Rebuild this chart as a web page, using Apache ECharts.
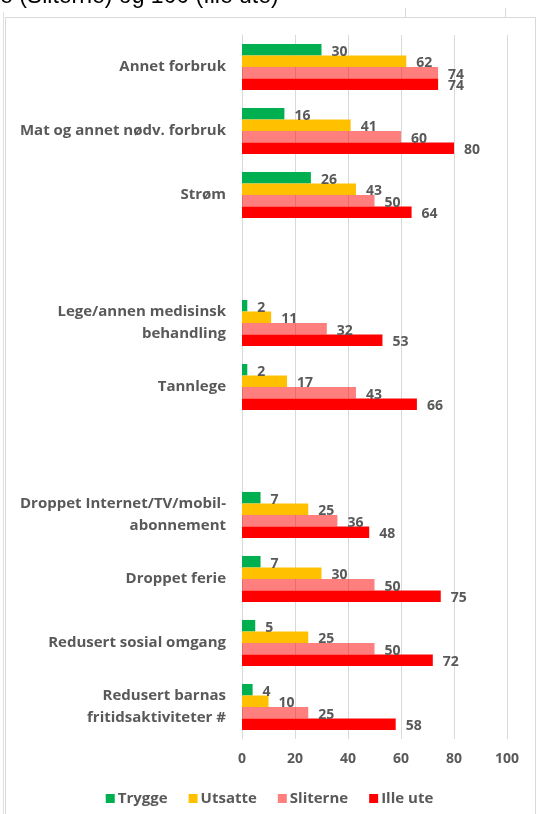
<!DOCTYPE html>
<html><head><meta charset="utf-8">
<script src="https://cdn.jsdelivr.net/npm/echarts@6/dist/echarts.min.js"></script>
<style>html,body{margin:0;padding:0;background:#fff}#c{width:539px;height:814px}</style>
</head><body><div id="c"></div>
<script>
const categories = ["Annet forbruk", "Mat og annet nødv. forbruk", "Strøm", " ", "Lege/annen medisinsk\nbehandling", "Tannlege", "  ", "Droppet Internet/TV/mobil-\nabonnement", "Droppet ferie", "Redusert sosial omgang", "Redusert barnas\nfritidsaktiviteter #"];
const seriesNames = ["Trygge", "Utsatte", "Sliterne", "Ille ute"];
const trygge   = [30, 16, 26, null, 2, 2, null, 7, 7, 5, 4];
const utsatte  = [62, 41, 43, null, 11, 17, null, 25, 30, 25, 10];
const sliterne = [74, 60, 50, null, 32, 43, null, 36, 50, 50, 25];
const illeUte  = [74, 80, 64, null, 53, 66, null, 48, 75, 72, 58];
const xTicks = [0, 20, 40, 60, 80, 100];

const colors = ["#00B050", "#FFC000", "rgba(255,0,0,0.5)", "#FF0000"];
const values = [trygge, utsatte, sliterne, illeUte];
const font = "'Open Sans', Lato, sans-serif";

const chart = echarts.init(document.getElementById('c'), null, {renderer: 'canvas'});
chart.setOption({
  animation: false,
  backgroundColor: '#fff',
  graphic: [
    {type: 'rect', shape: {x: 5.5, y: 17.5, width: 530, height: 820}, style: {fill: 'none', stroke: '#d9d9d9', lineWidth: 1}, silent: true},
    {type: 'line', shape: {x1: 3.5, y1: 12, x2: 3.5, y2: 814}, style: {stroke: '#e0e0e0', lineWidth: 1}, silent: true},
    {type: 'line', shape: {x1: 405.5, y1: 8, x2: 405.5, y2: 17}, style: {stroke: '#d9d9d9', lineWidth: 1}, silent: true},
    {type: 'line', shape: {x1: 505.5, y1: 8, x2: 505.5, y2: 17}, style: {stroke: '#d9d9d9', lineWidth: 1}, silent: true},
    {type: 'text', left: 0, top: -15, style: {text: 'e (Sliterne) og 100 (Ille ute)', font: "23px 'Liberation Sans', sans-serif", fill: '#000'}, silent: true}
  ],
  grid: {left: 242, right: 32, top: 35, bottom: 75, containLabel: false},
  legend: {
    bottom: 3, left: 'center',
    data: seriesNames,
    itemWidth: 9, itemHeight: 9, itemGap: 21,
    icon: 'rect',
    textStyle: {fontFamily: font, fontSize: 15, fontWeight: 'bold', color: '#595959', padding: [0, 0, 0, -2]}
  },
  xAxis: {
    type: 'value', min: 0, max: 100, interval: 20,
    axisLine: {show: false}, axisTick: {show: false},
    splitLine: {show: true, lineStyle: {color: '#d9d9d9', width: 1}},
    axisLabel: {fontFamily: font, fontSize: 14, fontWeight: 'bold', color: '#595959', margin: 13,
      formatter: v => xTicks.includes(v) ? String(v) : ''}
  },
  yAxis: {
    type: 'category', data: categories, inverse: true,
    axisLine: {show: true, lineStyle: {color: '#d9d9d9'}}, axisTick: {show: false},
    axisLabel: {fontFamily: font, fontSize: 15, fontWeight: 'bold', color: '#595959', margin: 16, align: 'right', lineHeight: 22}
  },
  series: seriesNames.map((n, i) => ({
    name: n, type: 'bar', data: values[i],
    barGap: '0%', barCategoryGap: '28%',
    itemStyle: {color: colors[i]},
    label: {show: true, position: 'right', distance: 10, offset: [0, 2],
      fontFamily: font, fontSize: 14, fontWeight: 'bold', color: '#595959'}
  }))
});
</script></body></html>
